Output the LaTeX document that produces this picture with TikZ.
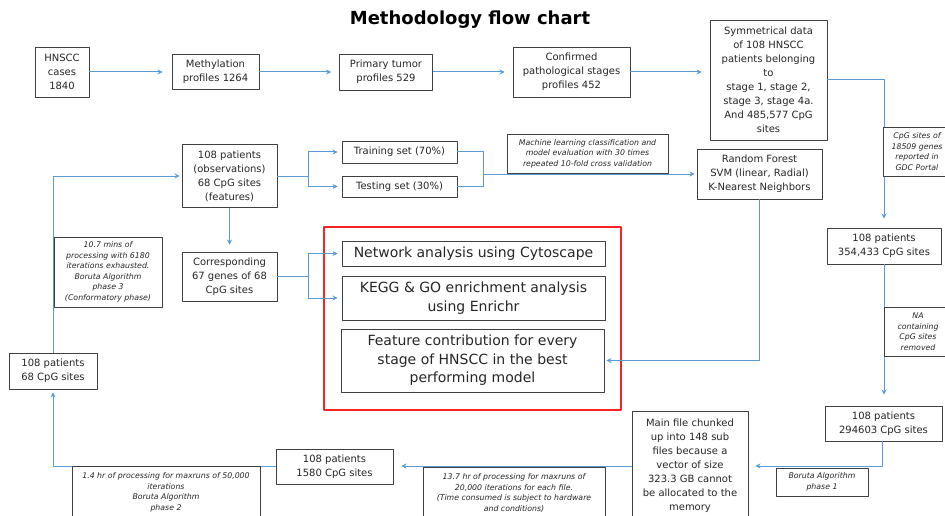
\documentclass[tikz,border=0pt]{standalone}
\usepackage{fontspec}
\setmainfont{DejaVu Sans}[ItalicFont={DejaVu Sans Oblique},BoldFont={DejaVu Sans Bold}]
\usetikzlibrary{arrows.meta,positioning}
\definecolor{flowblue}{RGB}{91,155,213}
\definecolor{boxgray}{RGB}{64,64,64}
\definecolor{txtgray}{RGB}{38,38,38}
\definecolor{framered}{RGB}{250,35,35}

\begin{document}
\begin{tikzpicture}[x=1pt, y=-1pt, >={Stealth[length=5pt,width=5pt]}, line join=round,
    box/.style={draw=boxgray, line width=0.9pt, fill=white, text=txtgray, align=center,
      inner sep=1pt, font=\fontsize{10}{14}\selectfont},
    bigbox/.style={box, font=\fontsize{14}{18.5}\selectfont},
    note/.style={draw=boxgray, line width=0.8pt, fill=white, text=txtgray, align=center,
      inner sep=1pt, font=\fontsize{7.8}{10.5}\selectfont\itshape},
    flow/.style={draw=flowblue, line width=1pt, ->},
    link/.style={draw=flowblue, line width=1pt}]
  \useasboundingbox (0,0) rectangle (945,516);
  \clip (0,0) rectangle (945,516);

  \node[font=\fontsize{18}{22}\selectfont\bfseries] (title) at (470,20) {Methodology flow chart};

  % top row
  \node[box, minimum width=54pt, minimum height=50pt] (hnscc) at (62,72) {HNSCC\\cases\\1840};
  \node[box, minimum width=87pt, minimum height=35pt] (methyl) at (215.5,72) {Methylation\\profiles 1264};
  \node[box, minimum width=93pt, minimum height=36pt] (primary) at (386,72) {Primary tumor\\profiles 529};
  \node[box, minimum width=117pt, minimum height=50pt] (confirmed) at (571.5,72) {Confirmed\\pathological stages\\profiles 452};
  \node[box, minimum width=117pt, minimum height=120pt] (symm) at (768.5,80)
    {Symmetrical data\\of 108 HNSCC\\patients belonging\\to\\stage 1, stage 2,\\stage 3, stage 4a.\\And 485,577 CpG\\sites};

  % right column
  \node[box, minimum width=114pt, minimum height=36pt] (p354) at (884,246) {108 patients\\354,433 CpG sites};
  \node[box, minimum width=117pt, minimum height=35pt] (p294) at (883.5,423.5) {108 patients\\294603 CpG sites};
  \node[box, minimum width=116pt, minimum height=110pt] (mainfile) at (690,466)
    {Main file chunked\\up into 148 sub\\files because a\\vector of size\\323.3 GB cannot\\be allocated to the\\memory};
  \node[box, minimum width=117pt, minimum height=35pt] (p1580) at (334.5,466.5) {108 patients\\1580 CpG sites};
  \node[box, minimum width=88pt, minimum height=36pt] (p68) at (53,371) {108 patients\\68 CpG sites};

  % middle
  \node[box, minimum width=95pt, minimum height=63pt] (obs) at (229.5,176) {108 patients\\(observations)\\68 CpG sites\\(features)};
  \node[box, minimum width=95pt, minimum height=49pt] (corr) at (229.5,276.5) {Corresponding\\67 genes of 68\\CpG sites};
  \node[box, minimum width=115pt, minimum height=22pt] (train) at (399.5,152) {Training set (70\%)};
  \node[box, minimum width=115pt, minimum height=21pt] (test) at (399.5,186.5) {Testing set (30\%)};
  \node[box, minimum width=125pt, minimum height=50pt] (rf) at (759.5,174) {Random Forest\\SVM (linear, Radial)\\K-Nearest Neighbors};

  \node[draw=framered, line width=2pt, minimum width=297pt, minimum height=183pt] (focus) at (472.5,318.5) {};
  \node[bigbox, minimum width=263pt, minimum height=25pt] (network) at (473.5,253.5) {Network analysis using Cytoscape};
  \node[bigbox, minimum width=263pt, minimum height=44pt] (kegg) at (473.5,298) {KEGG \& GO enrichment analysis\\using Enrichr};
  \node[bigbox, minimum width=263pt, minimum height=63pt] (feature) at (472.5,360.5) {Feature contribution for every\\stage of HNSCC in the best\\performing model};

  % connectors
  \draw[flow, shorten >=9pt] (hnscc.east) -- (methyl.west);
  \draw[flow, shorten >=8pt] (methyl.east) -- (primary.west);
  \draw[flow, shorten >=8pt] (primary.east) -- (confirmed.west);
  \draw[flow, shorten >=8pt] (confirmed.east) -- (confirmed.east -| symm.west);
  \draw[flow, shorten >=9pt] (symm.east) -| (p354.north);
  \draw[flow, shorten >=11pt] (p354.south) -- (p354.south |- p294.north);
  \draw[flow, shorten >=7pt] ([xshift=-1pt]p294.south) |- (mainfile.east);
  \draw[flow, shorten >=8pt] (mainfile.west) -- (mainfile.west -| p1580.east);
  \draw[flow, shorten >=3pt] (p1580.west) -| (p68.south);
  \draw[flow, shorten >=2pt] (p68.north) |- (obs.west);
  \draw[flow, shorten >=4pt] (obs.east) -- ++(31,0) |- (train.west);
  \draw[flow, shorten >=4pt] (obs.east) -- ++(31,0) |- (test.west);
  \draw[flow, shorten >=7pt] (obs.south) -- (corr.north);
  \draw[flow, shorten >=4pt] (corr.east) -- ++(31,0) |- (network.west);
  \draw[flow, shorten >=4pt] (corr.east) -- ++(31,0) |- (kegg.west);
  \coordinate (merge) at (483,174);
  \draw[link] (train.east) -| (merge);
  \draw[link] (test.east) -| (merge);
  \draw[flow, shorten >=2pt] (merge) -- (rf.west);
  \draw[flow, shorten >=2pt] (rf.south) |- (feature.east);

  % notes
  \node[note, minimum width=161pt, minimum height=39pt] (nml) at (587.5,153.5)
    {Machine learning classification and\\model evaluation with 30 times\\repeated 10-fold cross validation};
  \node[note, minimum width=68pt, minimum height=49pt] (ngdc) at (917,151.5)
    {CpG sites of\\18509 genes\\reported in\\GDC Portal};
  \node[note, minimum width=68pt, minimum height=49pt] (nna) at (918,331.5)
    {NA\\containing\\CpG sites\\removed};
  \node[note, minimum width=92pt, minimum height=28pt] (nb1) at (822,482) {Boruta Algorithm\\phase 1};
  \node[note, minimum width=182pt, minimum height=52pt] (nb137) at (514,493)
    {13.7 hr of processing for maxruns of\\20,000 iterations for each file.\\(Time consumed is subject to hardware\\and conditions)};
  \node[note, minimum width=188pt, minimum height=52pt] (nb14) at (166,492.5)
    {1.4 hr of processing for maxruns of 50,000\\iterations\\Boruta Algorithm\\phase 2};
  \node[note, minimum width=108pt, minimum height=70pt] (nb107) at (108,272)
    {10.7 mins of\\processing with 6180\\iterations exhausted.\\Boruta Algorithm\\phase 3\\(Conformatory phase)};
\end{tikzpicture}
\end{document}
